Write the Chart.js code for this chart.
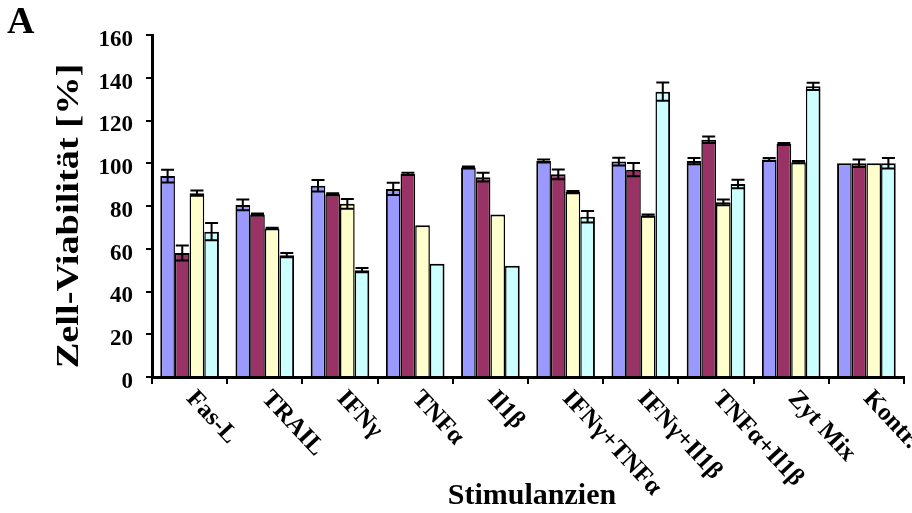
<!DOCTYPE html>
<html>
<head>
<meta charset="utf-8">
<script src="https://cdn.jsdelivr.net/npm/chart.js@4/dist/chart.umd.min.js"></script>
<style>
html,body{margin:0;padding:0;background:#fff;}
canvas{display:block;}
</style>
</head>
<body>
<canvas id="c" width="912" height="513"></canvas>
<script>
// ---- data ----
const categories = ['Fas-L','TRAIL','IFNγ','TNFα','Il1β','IFNγ+TNFα','IFNγ+Il1β','TNFα+Il1β','Zyt Mix','Kontr.'];
const series1 = [94, 80.5, 89.5, 88, 98, 101, 100.8, 101, 101.8, 100];
const error1  = [3, 2.5, 2.7, 2.9, 0.5, 0.7, 1.8, 1.5, 0.7, 0];
const series2 = [58, 76, 85.5, 95, 93.5, 94.8, 97, 111, 109, 100];
const error2  = [3.5, 0.5, 0.5, 0.5, 2, 2.3, 3.1, 1.5, 0.5, 1.7];
const series3 = [86, 69.5, 81, 71, 76, 86.5, 75.5, 81.7, 100.5, 100];
const error3  = [1.2, 0.3, 2.3, 0, 0, 0.5, 0.5, 1.3, 0.5, 0];
const series4 = [68, 57, 50, 53, 52, 75, 133.5, 90.3, 136, 100];
const error4  = [4, 1, 1, 0, 0, 2.7, 4.3, 2, 1.7, 2.4];
const yTicks = [0, 20, 40, 60, 80, 100, 120, 140, 160];
const yTitle = 'Zell-Viabilität [%]';
const xTitle = 'Stimulanzien';
const panelLabel = 'A';

const errors = [error1, error2, error3, error4];
const colors = ['#9999FF', '#993366', '#FFFFCC', '#CCFFFF'];
const FONT = '"Liberation Serif", "Times New Roman", serif';

const overlay = {
  id: 'overlay',
  afterDatasetsDraw(chart) {
    const ctx = chart.ctx;
    const ys = chart.scales.y;
    ctx.save();
    ctx.strokeStyle = '#000';
    ctx.lineWidth = 2;
    chart.data.datasets.forEach((ds, di) => {
      const meta = chart.getDatasetMeta(di);
      meta.data.forEach((bar, i) => {
        const e = errors[di][i];
        if (!e) return;
        const v = ds.data[i];
        const yt = ys.getPixelForValue(v + e);
        const yb = ys.getPixelForValue(v - e);
        const hw = 6.5;
        ctx.beginPath();
        ctx.moveTo(bar.x, yt); ctx.lineTo(bar.x, yb);
        ctx.moveTo(bar.x - hw, yt); ctx.lineTo(bar.x + hw, yt);
        ctx.moveTo(bar.x - hw, yb); ctx.lineTo(bar.x + hw, yb);
        ctx.stroke();
      });
    });
    ctx.restore();
  },
  afterDraw(chart) {
    const ctx = chart.ctx;
    const xs = chart.scales.x;
    const area = chart.chartArea;
    ctx.save();
    ctx.fillStyle = '#000';
    // rotated category labels
    ctx.font = 'bold 25px ' + FONT;
    ctx.textAlign = 'left';
    ctx.textBaseline = 'alphabetic';
    const ang = 47 * Math.PI / 180;
    categories.forEach((lab, i) => {
      const cx = xs.getPixelForValue(i);
      ctx.save();
      ctx.translate(cx - 4, area.bottom + 22);
      ctx.rotate(ang);
      ctx.fillText(lab, 0, 0);
      ctx.restore();
    });
    // x title
    ctx.save();
    ctx.font = 'bold 30px ' + FONT;
    ctx.textAlign = 'center';
    ctx.textBaseline = 'alphabetic';
    ctx.fillText(xTitle, (area.left + area.right) / 2 + 4, 504);
    ctx.restore();
    // y title
    ctx.save();
    ctx.font = 'bold 32px ' + FONT;
    ctx.textAlign = 'center';
    ctx.textBaseline = 'middle';
    ctx.translate(70, (area.top + area.bottom) / 2 + 10);
    ctx.rotate(-Math.PI / 2);
    ctx.scale(1.2, 1);
    ctx.fillText(yTitle, 0, 0);
    ctx.restore();
    // panel label
    ctx.font = 'bold 38px ' + FONT;
    ctx.textAlign = 'left';
    ctx.textBaseline = 'alphabetic';
    ctx.fillText(panelLabel, 7, 33);
    ctx.restore();
  }
};

const mk = (label, data, color, lw, rw) => ({
  label, data,
  backgroundColor: color,
  borderColor: '#000',
  borderWidth: {top: 2, left: lw, right: rw, bottom: 0},
  borderSkipped: false,
  categoryPercentage: 0.78,
  barPercentage: 1.0
});

new Chart(document.getElementById('c'), {
  type: 'bar',
  data: {
    labels: categories,
    datasets: [
      mk('Serie 1', series1, colors[0], 2, 1.5),
      mk('Serie 2', series2, colors[1], 1.5, 1.5),
      mk('Serie 3', series3, colors[2], 1.5, 1.5),
      mk('Serie 4', series4, colors[3], 1.5, 2)
    ]
  },
  options: {
    responsive: false,
    animation: false,
    events: [],
    layout: {padding: {top: 35, right: 8, left: 0, bottom: 0}},
    plugins: {legend: {display: false}, tooltip: {enabled: false}},
    scales: {
      x: {
        grid: {display: true, drawOnChartArea: false, drawTicks: true, tickLength: 7, color: '#000', lineWidth: 2, offset: true},
        border: {color: '#000', width: 3},
        ticks: {display: false},
        afterFit: s => { s.height = 136; }
      },
      y: {
        min: 0, max: 160,
        afterBuildTicks: s => { s.ticks = yTicks.map(v => ({value: v})); },
        ticks: {font: {family: FONT, size: 23, weight: 'bold'}, color: '#000', padding: 13, labelOffset: 5},
        grid: {drawOnChartArea: false, tickLength: 6, color: '#000', lineWidth: 2},
        border: {color: '#000', width: 3},
        afterFit: s => { s.width = 152; }
      }
    }
  },
  plugins: [overlay]
});
</script>
</body>
</html>
